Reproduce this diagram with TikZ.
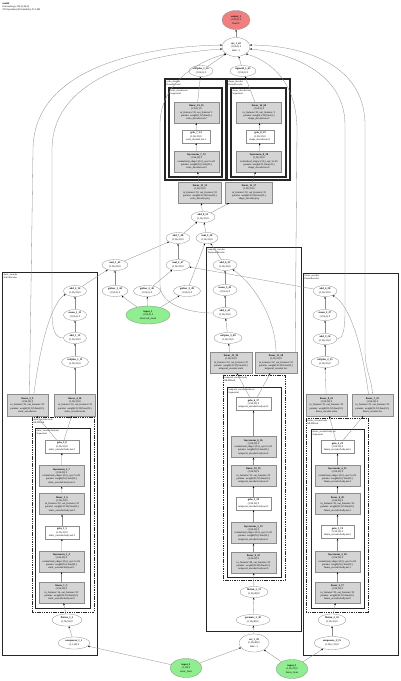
\documentclass[tikz,border=0pt]{standalone}
\usepackage{fontspec}
\setmainfont{Liberation Serif}
\usetikzlibrary{shapes.geometric,arrows.meta}
\newcommand{\bn}[1]{\textbf{#1}}
\definecolor{ingreen}{RGB}{144,238,144}
\definecolor{outred}{RGB}{240,128,128}
\begin{document}
\begin{tikzpicture}[x=1pt,y=-1pt,
  txt/.style={font=\fontsize{2.6}{3.3}\selectfont},
  ell/.style={ellipse, draw=black!45, line width=0.3pt, fill=white, inner sep=0pt, align=center, txt, minimum width=24pt, minimum height=11pt},
  gbox/.style={rectangle, draw=black!45, fill=black!17, line width=0.3pt, inner sep=0.3pt, align=center, txt, minimum width=45pt, minimum height=21pt},
  wbox/.style={gbox, fill=white, minimum width=34pt, minimum height=13pt},
  inell/.style={ell, fill=ingreen, minimum width=32pt, minimum height=19pt},
  outell/.style={ell, fill=outred, minimum width=28pt, minimum height=19pt},
  clus/.style={draw=black!85, line width=0.8pt},
  dclus/.style={draw=black!85, line width=0.7pt, dash pattern=on 1.5pt off 0.8pt},
  lab/.style={anchor=north west, inner sep=0.4pt, align=left, font=\fontsize{2.4}{2.9}\selectfont},
  edge/.style={draw=black!45, line width=0.3pt, -{Stealth[length=2pt,width=1.6pt,color=black]}}
]
\fill[white] (0,0) rectangle (400,681);
\useasboundingbox (0,0) rectangle (400,681);

% header
\node[lab, font=\fontsize{2.6}{3.1}\selectfont] (hdr) at (2,2) {\bn{model}\\forecaster.py:116 (1,96,3)\\5374 params (all trainable), 21.5 kB};

% ---------- clusters ----------
% decoders
\draw[clus, line width=1.1pt] (165,79) rectangle (226,180);
\node[lab] (lsd) at (166,80) {scale\_decoder\\DenseDecoder};
\draw[clus, line width=1.1pt] (169,88) rectangle (222,177);
\node[lab] (lsdn) at (170,89) {scale\_decoder.net\\Sequential};
\draw[clus, line width=1.1pt] (227,79) rectangle (290,180);
\node[lab] (lhd) at (228,80) {shape\_decoder\\DenseDecoder};
\draw[clus, line width=1.1pt] (231,88) rectangle (286,177);
\node[lab] (lhdn) at (232,89) {shape\_decoder.net\\Sequential};
% static encoder (left)
\draw[clus] (2,272) rectangle (97,655);
\node[lab] (lse) at (3,273) {static\_encoder\\StaticEncoder};
\draw[dclus] (32,417) rectangle (94,612);
\node[lab] (lseb) at (33,418) {static\_encoder.body\\MLPBlock};
\draw[clus, line width=0.6pt] (35,428) rectangle (90,608);
\node[lab] (lsebn) at (36,429) {static\_encoder.body.net\\Sequential};
% temporal encoder (middle)
\draw[clus] (206,247) rectangle (301,631);
\node[lab] (lte) at (207,248) {temporal\_encoder\\TemporalEncoder};
\draw[dclus] (223,375) rectangle (285,580);
\node[lab] (lteb) at (224,376) {temporal\_encoder.body\\MLPBlock};
\draw[clus, line width=0.6pt] (227,387) rectangle (281,577);
\node[lab] (ltebn) at (228,388) {temporal\_encoder.body.net\\Sequential};
% future encoder (right)
\draw[clus] (303,273) rectangle (398,655);
\node[lab] (lfe) at (304,274) {future\_encoder\\FutureEncoder};
\draw[dclus] (306,418) rectangle (368,612);
\node[lab] (lfeb) at (307,419) {future\_encoder.body\\MLPBlock};
\draw[clus, line width=0.6pt] (311,429) rectangle (364,608);
\node[lab] (lfebn) at (312,430) {future\_encoder.body.net\\Sequential};

% ---------- top ----------
\node[outell] (output_1) at (236,20) {\bn{output\_1}\\(1,96,2) 0\\float32};
\node[ell, minimum width=28pt, minimum height=19pt] (cat_1_62) at (236,47) {\bn{cat\_1\_62}\\(1,96,2) 0\\dim=-1};
\node[ell] (softplus_1_56) at (201,71) {\bn{softplus\_1\_56}\\(1,96,1) 0};
\node[ell, minimum width=26pt] (sigmoid_1_61) at (243,71) {\bn{sigmoid\_1\_61}\\(1,96,1) 0};

% decoders
\node[gbox] (linear_14_55) at (196.5,112.5) {\bn{linear\_14\_55}\\(1,96,1) 0\\in\_features=32, out\_features=1\\params: weight(1,32) bias(1,)\\scale\_decoder.net.2};
\node[wbox, minimum width=28pt] (gelu_7_54) at (196,136.5) {\bn{gelu\_7\_54}\\(1,96,32) 0\\scale\_decoder.net.1};
\node[gbox] (layernorm_7_53) at (196.5,161.5) {\bn{layernorm\_7\_53}\\(1,96,32) 0\\normalized\_shape=(32,), eps=1e-05\\params: weight(32,) bias(32,)\\scale\_decoder.net.0};
\node[gbox] (linear_16_60) at (259,112.5) {\bn{linear\_16\_60}\\(1,96,1) 0\\in\_features=32, out\_features=1\\params: weight(1,32) bias(1,)\\shape\_decoder.net.2};
\node[wbox, minimum width=28pt] (gelu_8_59) at (260,136.5) {\bn{gelu\_8\_59}\\(1,96,32) 0\\shape\_decoder.net.1};
\node[gbox] (layernorm_8_58) at (259,161.5) {\bn{layernorm\_8\_58}\\(1,96,32) 0\\normalized\_shape=(32,), eps=1e-05\\params: weight(32,) bias(32,)\\shape\_decoder.net.0};
\node[gbox, minimum width=43pt] (linear_13_52) at (200,192.5) {\bn{linear\_13\_52}\\(1,96,32) 0\\in\_features=32, out\_features=32\\params: weight(32,32) bias(32,)\\scale\_decoder.proj};
\node[gbox, minimum width=47pt] (linear_15_57) at (249,192.5) {\bn{linear\_15\_57}\\(1,96,32) 0\\in\_features=32, out\_features=32\\params: weight(32,32) bias(32,)\\shape\_decoder.proj};

% mixing
\node[ell] (add_8_51) at (203,217) {\bn{add\_8\_51}\\(1,96,32) 0};
\node[ell] (add_7_48) at (178,238) {\bn{add\_7\_48}\\(1,96,32) 0};
\node[ell, minimum width=22pt] (mul_3_50) at (207,238) {\bn{mul\_3\_50}\\(1,96,32) 0};
\node[ell] (mul_2_47) at (178,265) {\bn{mul\_2\_47}\\(1,96,32) 0};
\node[ell, minimum width=26pt] (mul_1_45) at (115,265) {\bn{mul\_1\_45}\\(1,96,32) 0};
\node[ell, minimum width=26pt] (gather_1_44) at (115,291) {\bn{gather\_1\_44}\\(1,96,1) 0};
\node[ell, minimum width=27pt] (gather_2_46) at (147,291) {\bn{gather\_2\_46}\\(1,96,1) 0};
\node[ell, minimum width=27pt] (gather_3_49) at (187,291) {\bn{gather\_3\_49}\\(1,96,1) 0};
\node[inell, minimum width=44pt, minimum height=18pt] (input_1) at (148,315) {\bn{input\_1}\\(1,96,3) 0\\observed\_mask};

% ---------- static encoder ----------
\node[ell, minimum width=23pt] (add_2_14) at (75,291) {\bn{add\_2\_14}\\(1,96,32) 0};
\node[ell, minimum width=23pt] (mean_1_13) at (75,315) {\bn{mean\_1\_13}\\(1,96,1) 0};
\node[ell, minimum width=23pt] (add_1_12) at (75,338) {\bn{add\_1\_12}\\(1,96,32) 0};
\node[ell, minimum width=27pt] (softplus_1_11) at (75,362) {\bn{softplus\_1\_11}\\(1,96,32) 0};
\node[gbox, minimum width=41pt, minimum height=22pt] (linear_3_9) at (27.5,405) {\bn{linear\_3\_9}\\(1,96,32) 0\\in\_features=32, out\_features=32\\params: weight(32,32) bias(32,)\\static\_encoder.loc};
\node[gbox, minimum width=41pt, minimum height=22pt] (linear_4_10) at (75,405) {\bn{linear\_4\_10}\\(1,96,32) 0\\in\_features=32, out\_features=32\\params: weight(32,32) bias(32,)\\static\_encoder.scale};
\node[wbox] (gelu_2_8) at (62,446.5) {\bn{gelu\_2\_8}\\(1,96,32) 0\\static\_encoder.body.net.5};
\node[gbox] (layernorm_2_7) at (61.5,476) {\bn{layernorm\_2\_7}\\(1,96,32) 0\\normalized\_shape=(32,), eps=1e-05\\params: weight(32,) bias(32,)\\static\_encoder.body.net.4};
\node[gbox] (linear_2_6) at (62,504) {\bn{linear\_2\_6}\\(1,96,32) 0\\in\_features=32, out\_features=32\\params: weight(32,32) bias(32,)\\static\_encoder.body.net.3};
\node[wbox] (gelu_1_5) at (62,532.5) {\bn{gelu\_1\_5}\\(1,96,32) 0\\static\_encoder.body.net.2};
\node[gbox] (layernorm_1_4) at (61.5,561.5) {\bn{layernorm\_1\_4}\\(1,96,32) 0\\normalized\_shape=(32,), eps=1e-05\\params: weight(32,) bias(32,)\\static\_encoder.body.net.1};
\node[gbox] (linear_1_3) at (61.5,592.5) {\bn{linear\_1\_3}\\(1,96,32) 0\\in\_features=16, out\_features=32\\params: weight(32,16) bias(32,)\\static\_encoder.body.net.0};
\node[ell, minimum width=30pt, minimum height=12pt] (flatten_1_2) at (67,620) {\bn{flatten\_1\_2}\\(1,96,16) 0};
\node[ell, minimum width=32pt, minimum height=12pt] (unsqueeze_1_1) at (74,643) {\bn{unsqueeze\_1\_1}\\(1,1,16) 0};

% ---------- temporal encoder ----------
\node[ell] (add_6_43) at (225,265) {\bn{add\_6\_43}\\(1,96,32) 0};
\node[ell] (mean_3_42) at (225,290) {\bn{mean\_3\_42}\\(1,96,1) 0};
\node[ell] (add_5_41) at (225,313) {\bn{add\_5\_41}\\(1,96,32) 0};
\node[ell, minimum width=28pt] (softplus_3_40) at (228,338) {\bn{softplus\_3\_40}\\(1,96,32) 0};
\node[gbox, minimum width=42pt] (linear_12_39) at (231,362.5) {\bn{linear\_12\_39}\\(1,96,32) 0\\in\_features=32, out\_features=32\\params: weight(32,32) bias(32,)\\temporal\_encoder.scale};
\node[gbox, minimum width=42pt] (linear_11_38) at (276,362.5) {\bn{linear\_11\_38}\\(1,96,32) 0\\in\_features=32, out\_features=32\\params: weight(32,32) bias(32,)\\temporal\_encoder.loc};
\node[wbox, minimum width=35pt] (gelu_6_37) at (253.5,404) {\bn{gelu\_6\_37}\\(1,96,32) 0\\temporal\_encoder.body.net.5};
\node[gbox] (layernorm_6_36) at (253.5,447) {\bn{layernorm\_6\_36}\\(1,96,32) 0\\normalized\_shape=(32,), eps=1e-05\\params: weight(32,) bias(32,)\\temporal\_encoder.body.net.4};
\node[gbox] (linear_10_35) at (253.5,475.5) {\bn{linear\_10\_35}\\(1,96,32) 0\\in\_features=32, out\_features=32\\params: weight(32,32) bias(32,)\\temporal\_encoder.body.net.3};
\node[wbox, minimum width=35pt] (gelu_5_34) at (253.5,503.5) {\bn{gelu\_5\_34}\\(1,96,32) 0\\temporal\_encoder.body.net.2};
\node[gbox] (layernorm_5_33) at (253.5,533) {\bn{layernorm\_5\_33}\\(1,96,32) 0\\normalized\_shape=(32,), eps=1e-05\\params: weight(32,) bias(32,)\\temporal\_encoder.body.net.1};
\node[gbox] (linear_9_32) at (253.5,562.5) {\bn{linear\_9\_32}\\(1,96,32) 0\\in\_features=48, out\_features=32\\params: weight(32,48) bias(32,)\\temporal\_encoder.body.net.0};
\node[ell, minimum width=28pt] (flatten_3_31) at (254,592) {\bn{flatten\_3\_31}\\(1,96,48) 0};
\node[ell, minimum width=34pt] (permute_1_30) at (253,620) {\bn{permute\_1\_30}\\(1,96,48) 0};
\node[ell, minimum width=30pt, minimum height=18pt] (cat_1_29) at (254,643) {\bn{cat\_1\_29}\\(1,96,48) 0\\dim=-1};

% ---------- future encoder ----------
\node[ell] (add_4_28) at (325,291) {\bn{add\_4\_28}\\(1,96,32) 0};
\node[ell] (mean_2_27) at (325,315) {\bn{mean\_2\_27}\\(1,96,1) 0};
\node[ell] (add_3_26) at (325,339) {\bn{add\_3\_26}\\(1,96,32) 0};
\node[ell, minimum width=28pt] (softplus_2_25) at (325,362) {\bn{softplus\_2\_25}\\(1,96,32) 0};
\node[gbox, minimum width=41pt, minimum height=22pt] (linear_8_24) at (326.5,405) {\bn{linear\_8\_24}\\(1,96,32) 0\\in\_features=32, out\_features=32\\params: weight(32,32) bias(32,)\\future\_encoder.scale};
\node[gbox, minimum width=41pt, minimum height=22pt] (linear_7_23) at (372.5,405) {\bn{linear\_7\_23}\\(1,96,32) 0\\in\_features=32, out\_features=32\\params: weight(32,32) bias(32,)\\future\_encoder.loc};
\node[wbox, minimum width=33pt] (gelu_4_22) at (337.5,447) {\bn{gelu\_4\_22}\\(1,96,32) 0\\future\_encoder.body.net.5};
\node[gbox] (layernorm_4_21) at (337.5,475.5) {\bn{layernorm\_4\_21}\\(1,96,32) 0\\normalized\_shape=(32,), eps=1e-05\\params: weight(32,) bias(32,)\\future\_encoder.body.net.4};
\node[gbox] (linear_6_20) at (337.5,504) {\bn{linear\_6\_20}\\(1,96,32) 0\\in\_features=32, out\_features=32\\params: weight(32,32) bias(32,)\\future\_encoder.body.net.3};
\node[wbox, minimum width=33pt] (gelu_3_19) at (337.5,532) {\bn{gelu\_3\_19}\\(1,96,32) 0\\future\_encoder.body.net.2};
\node[gbox] (layernorm_3_18) at (337.5,561.5) {\bn{layernorm\_3\_18}\\(1,96,32) 0\\normalized\_shape=(32,), eps=1e-05\\params: weight(32,) bias(32,)\\future\_encoder.body.net.1};
\node[gbox] (linear_5_17) at (337.5,592.5) {\bn{linear\_5\_17}\\(1,96,32) 0\\in\_features=32, out\_features=32\\params: weight(32,32) bias(32,)\\future\_encoder.body.net.0};
\node[ell, minimum width=28pt, minimum height=12pt] (flatten_2_16) at (332,620) {\bn{flatten\_2\_16}\\(1,96,32) 0};
\node[ell, minimum width=36pt, minimum height=13pt] (unsqueeze_2_15) at (332,643) {\bn{unsqueeze\_2\_15}\\(1,96,1,32) 0};

% inputs
\node[inell] (input_2) at (186,668) {\bn{input\_2}\\(1,16) 0\\static\_feats};
\node[inell] (input_3) at (292,669) {\bn{input\_3}\\(1,96,32) 0\\future\_feats};

% ---------- edges ----------
\draw[edge] (cat_1_62) -- (output_1);
\draw[edge] (softplus_1_56) -- (cat_1_62);
\draw[edge] (sigmoid_1_61) -- (cat_1_62);
\draw[edge] (linear_14_55) -- (softplus_1_56);
\draw[edge] (linear_16_60) -- (sigmoid_1_61);
\draw[edge] (gelu_7_54) -- (linear_14_55);
\draw[edge] (layernorm_7_53) -- (gelu_7_54);
\draw[edge] (linear_13_52) -- (layernorm_7_53);
\draw[edge] (gelu_8_59) -- (linear_16_60);
\draw[edge] (layernorm_8_58) -- (gelu_8_59);
\draw[edge] (linear_15_57) -- (layernorm_8_58);
\draw[edge] (add_8_51) -- (linear_13_52);
\draw[edge] (add_8_51) -- (linear_15_57);
\draw[edge] (add_7_48) -- (add_8_51);
\draw[edge] (mul_3_50) -- (add_8_51);
\draw[edge] (mul_2_47) -- (add_7_48);
\draw[edge] (mul_1_45) -- (add_7_48);
\draw[edge] (gather_1_44) -- (mul_1_45);
\draw[edge] (gather_2_46) -- (mul_2_47);
\draw[edge] (gather_3_49) -- (mul_3_50);
\draw[edge] (input_1) -- (gather_1_44);
\draw[edge] (input_1) -- (gather_2_46);
\draw[edge] (input_1) -- (gather_3_49);
\draw[edge] (add_2_14) -- (mul_1_45);
\draw[edge] (add_4_28) -- (mul_2_47);
\draw[edge] (add_6_43) -- (mul_3_50);

% static encoder chain
\draw[edge] (input_2) -- (unsqueeze_1_1);
\draw[edge] (unsqueeze_1_1) -- (flatten_1_2);
\draw[edge] (flatten_1_2) -- (linear_1_3);
\draw[edge] (linear_1_3) -- (layernorm_1_4);
\draw[edge] (layernorm_1_4) -- (gelu_1_5);
\draw[edge] (gelu_1_5) -- (linear_2_6);
\draw[edge] (linear_2_6) -- (layernorm_2_7);
\draw[edge] (layernorm_2_7) -- (gelu_2_8);
\draw[edge] (gelu_2_8) -- (linear_3_9);
\draw[edge] (gelu_2_8) -- (linear_4_10);
\draw[edge] (linear_4_10) -- (softplus_1_11);
\draw[edge] (softplus_1_11) -- (add_1_12);
\draw[edge] (add_1_12) -- (mean_1_13);
\draw[edge] (mean_1_13) -- (add_2_14);
\draw[edge] (linear_3_9.60) .. controls (42,330) and (55,300) .. (add_2_14.200);

% temporal encoder chain
\draw[edge] (input_2) -- (cat_1_29);
\draw[edge] (input_3) -- (cat_1_29);
\draw[edge] (cat_1_29) -- (permute_1_30);
\draw[edge] (permute_1_30) -- (flatten_3_31);
\draw[edge] (flatten_3_31) -- (linear_9_32);
\draw[edge] (linear_9_32) -- (layernorm_5_33);
\draw[edge] (layernorm_5_33) -- (gelu_5_34);
\draw[edge] (gelu_5_34) -- (linear_10_35);
\draw[edge] (linear_10_35) -- (layernorm_6_36);
\draw[edge] (layernorm_6_36) -- (gelu_6_37);
\draw[edge] (gelu_6_37) -- (linear_12_39);
\draw[edge] (gelu_6_37) -- (linear_11_38);
\draw[edge] (linear_12_39) -- (softplus_3_40);
\draw[edge] (softplus_3_40) -- (add_5_41);
\draw[edge] (add_5_41) -- (mean_3_42);
\draw[edge] (mean_3_42) -- (add_6_43);
\draw[edge] (linear_11_38.north) .. controls (276,320) and (255,285) .. (add_6_43.330);

% future encoder chain
\draw[edge] (input_3) -- (unsqueeze_2_15);
\draw[edge] (unsqueeze_2_15) -- (flatten_2_16);
\draw[edge] (flatten_2_16) -- (linear_5_17);
\draw[edge] (linear_5_17) -- (layernorm_3_18);
\draw[edge] (layernorm_3_18) -- (gelu_3_19);
\draw[edge] (gelu_3_19) -- (linear_6_20);
\draw[edge] (linear_6_20) -- (layernorm_4_21);
\draw[edge] (layernorm_4_21) -- (gelu_4_22);
\draw[edge] (gelu_4_22) -- (linear_8_24);
\draw[edge] (gelu_4_22) -- (linear_7_23);
\draw[edge] (linear_8_24) -- (softplus_2_25);
\draw[edge] (softplus_2_25) -- (add_3_26);
\draw[edge] (add_3_26) -- (mean_2_27);
\draw[edge] (mean_2_27) -- (add_4_28);
\draw[edge] (linear_7_23.110) .. controls (362,345) and (350,305) .. (add_4_28.330);

% long arcs into cat_1_62
\draw[edge] (linear_3_9.80) -- (33,150) .. controls (33,65) and (150,46) .. (cat_1_62.172);
\draw[edge] (add_1_12.west) .. controls (55,338) and (52,330) .. (52,312) -- (52,150) .. controls (52,75) and (150,54) .. (cat_1_62.188);
\draw[edge] (add_5_41.west) .. controls (190,313) and (160,305) .. (160,285) -- (160,125) .. controls (160,85) and (195,62) .. (cat_1_62.215);
\draw[edge] ([xshift=-2pt]linear_11_38.north east) -- (297,130) .. controls (297,80) and (268,60) .. (cat_1_62.325);
\draw[edge] (add_3_26.east) .. controls (343,339) and (345,330) .. (345,310) -- (345,125) .. controls (345,70) and (285,52) .. (cat_1_62.352);
\draw[edge] (linear_7_23.north) .. controls (372,380) and (365,370) .. (365,350) -- (365,125) .. controls (365,60) and (295,45) .. (cat_1_62.8);
\end{tikzpicture}
\end{document}
